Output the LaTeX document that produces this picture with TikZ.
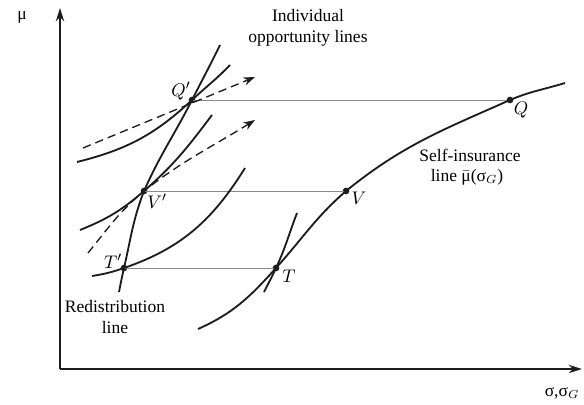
\documentclass[tikz,border=0pt]{standalone}
\usepackage{fontspec}
\setmainfont{Liberation Serif}
\usetikzlibrary{arrows.meta}
\definecolor{cink}{HTML}{1C1C1C}
\definecolor{cguide}{HTML}{8A8A8A}

\begin{document}
\begin{tikzpicture}[
  x=0.6pt, y=0.6pt,
  font=\fontsize{10.5}{12.5}\selectfont,
  axis/.style={
    draw=cink, line width=1.2pt, -{Stealth[length=8pt, width=5pt]}
  },
  curve/.style={
    draw=cink, line width=1.1pt
  },
  guide/.style={
    draw=cguide, line width=0.4pt
  },
  opline/.style={
    draw=cink, line width=0.8pt, dash pattern=on 5pt off 3pt,
    -{Stealth[length=7pt, width=5pt]}
  },
  eqpoint/.style={
    circle, fill=cink, inner sep=0pt, minimum size=4pt
  },
  ptlabel/.style={
    font=\fontsize{11}{13}\selectfont
  },
  note/.style={
    inner sep=1pt
  }
]
\useasboundingbox (0,0) rectangle (584,404);

% ============================================================
% Axes
% ============================================================
\coordinate (O) at (60,35);
\coordinate (ytip) at (60,396);
\coordinate (xtip) at (582,35);
\draw[axis] (O) -- (ytip);
\draw[axis] (O) -- (xtip);
\node (mulab) at (22,387) {μ};
\node (siglab) at (562,11) {σ,σ$_{G}$};

% ============================================================
% Points on the two lines
% ============================================================
\node[eqpoint] (Qp) at (192,304) {};
\node[eqpoint] (Vp) at (144,213) {};
\node[eqpoint] (Tp) at (124,136) {};
\node[eqpoint] (Q) at (510,304) {};
\node[eqpoint] (V) at (346,213) {};
\node[eqpoint] (T) at (276,136) {};

% thin horizontals between matching points
\foreach \a/\b in {Qp/Q, Vp/V, Tp/T} {
  \draw[guide] (\a.center) -- (\b.center);
}

% Redistribution line
\draw[curve] (119,112) to[out=79,in=257] (Tp.center)
  to[out=77,in=249] (Vp.center) to[out=66,in=243] (Qp.center)
  to[out=63,in=244] (220,359);

% Self-insurance line
\draw[curve] (198,75) to[out=24,in=228] (T.center)
  to[out=48,in=221] (V.center) to[out=39,in=204] (Q.center)
  to[out=23,in=197] (565,321);

% ============================================================
% Indifference curves through the points
% ============================================================
\draw[curve] (77,242) to[out=14,in=223] (Qp.center)
  to[out=43,in=226] (230,339);
\draw[curve] (80,174) to[out=22,in=221] (Vp.center)
  to[out=41,in=233] (212,289);
\draw[curve] (92,128) to[out=9,in=199] (Tp.center)
  to[out=19,in=238] (245,236);
\draw[curve] (264,112) to[out=63,in=245] (T.center)
  to[out=65,in=249] (297,191);

% Individual opportunity lines (dashed)
\coordinate (qstart) at (83,256);
\coordinate (qend) at (255,327);
\coordinate (vstart) at (88,151);
\coordinate (vend) at (255,284);
\draw[opline] (qstart) -- (qend);
\draw[opline] (vstart) to[out=51,in=220] (Vp.center)
  to[out=38,in=212] (vend);

% ============================================================
% Labels
% ============================================================
\node[ptlabel] (Qplab) at (181,313) {$Q'$};
\node[ptlabel] (Vplab) at (157,203) {$V'$};
\node[ptlabel] (Tplab) at (113,143) {$T'$};
\node[ptlabel] (Qlab) at (521,294) {$Q$};
\node[ptlabel] (Vlab) at (359,206) {$V$};
\node[ptlabel] (Tlab) at (289,128) {$T$};

\node[align=center] (opplab) at (308,376)
  {Individual\\opportunity lines};
\node[note] (selflab) at (470,249) {Self-insurance};
\node[note] (selflab2) at (467,227) {line $\bar{\hbox{μ}}$(σ$_{G}$)};
\node[align=center] (redlab) at (115,87)
  {Redistribution\\line};

\end{tikzpicture}
\end{document}
